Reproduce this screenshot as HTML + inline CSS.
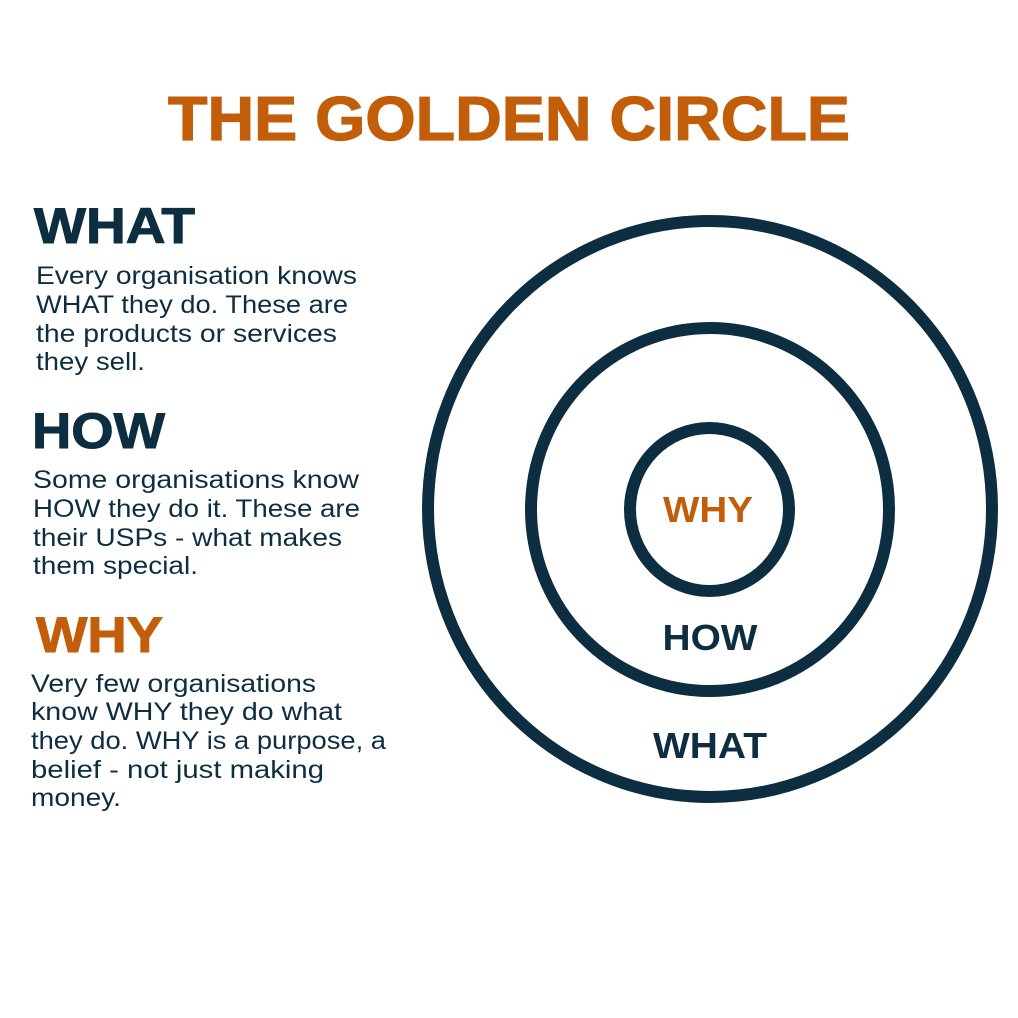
<!DOCTYPE html>
<html><head><meta charset="utf-8"><style>html,body{margin:0;padding:0;background:#fff}svg{display:block}</style></head>
<body>
<svg width="1018" height="1018" viewBox="0 0 1018 1018" xmlns="http://www.w3.org/2000/svg" font-family="Liberation Sans, sans-serif">
<rect width="1018" height="1018" fill="#fff"/>
<text x="168" y="140" font-size="62" font-weight="bold" fill="#c25e0a" stroke="#c25e0a" stroke-width="1.2" textLength="682" lengthAdjust="spacingAndGlyphs">THE GOLDEN CIRCLE</text>
<g fill="none" stroke="#0d2d40" stroke-width="12">
<ellipse cx="710" cy="509" rx="282" ry="288"/>
<ellipse cx="710" cy="509.5" rx="179" ry="181.5"/>
<ellipse cx="709.5" cy="509.5" rx="79.5" ry="81.5"/>
</g>
<g font-weight="bold" font-size="36" text-anchor="middle">
<text x="708" y="522" fill="#c25e0a" textLength="90" lengthAdjust="spacingAndGlyphs">WHY</text>
<text x="710" y="650" fill="#0d2d40" textLength="95" lengthAdjust="spacingAndGlyphs">HOW</text>
<text x="710" y="758" fill="#0d2d40" textLength="114" lengthAdjust="spacingAndGlyphs">WHAT</text>
</g>
<g font-weight="bold" font-size="50" stroke-width="1">
<text x="34" y="243" fill="#0d2d40" stroke="#0d2d40" textLength="161" lengthAdjust="spacingAndGlyphs">WHAT</text>
<text x="32" y="448" fill="#0d2d40" stroke="#0d2d40" textLength="133" lengthAdjust="spacingAndGlyphs">HOW</text>
<text x="36" y="652" fill="#c25e0a" stroke="#c25e0a" textLength="127" lengthAdjust="spacingAndGlyphs">WHY</text>
</g>
<g font-size="25" fill="#0d2d40">
<text x="36" y="284" textLength="321" lengthAdjust="spacingAndGlyphs">Every organisation knows</text>
<text x="36" y="313" textLength="312" lengthAdjust="spacingAndGlyphs">WHAT they do. These are</text>
<text x="36" y="342" textLength="301" lengthAdjust="spacingAndGlyphs">the products or services</text>
<text x="36" y="370" textLength="109" lengthAdjust="spacingAndGlyphs">they sell.</text>
<text x="33" y="488" textLength="326" lengthAdjust="spacingAndGlyphs">Some organisations know</text>
<text x="33" y="517" textLength="327" lengthAdjust="spacingAndGlyphs">HOW they do it. These are</text>
<text x="33" y="546" textLength="309" lengthAdjust="spacingAndGlyphs">their USPs - what makes</text>
<text x="33" y="574" textLength="165" lengthAdjust="spacingAndGlyphs">them special.</text>
<text x="31" y="692" textLength="285" lengthAdjust="spacingAndGlyphs">Very few organisations</text>
<text x="31" y="720" textLength="311" lengthAdjust="spacingAndGlyphs">know WHY they do what</text>
<text x="31" y="749" textLength="355" lengthAdjust="spacingAndGlyphs">they do. WHY is a purpose, a</text>
<text x="31" y="778" textLength="293" lengthAdjust="spacingAndGlyphs">belief - not just making</text>
<text x="31" y="806" textLength="90" lengthAdjust="spacingAndGlyphs">money.</text>
</g>
</svg>
</body></html>
